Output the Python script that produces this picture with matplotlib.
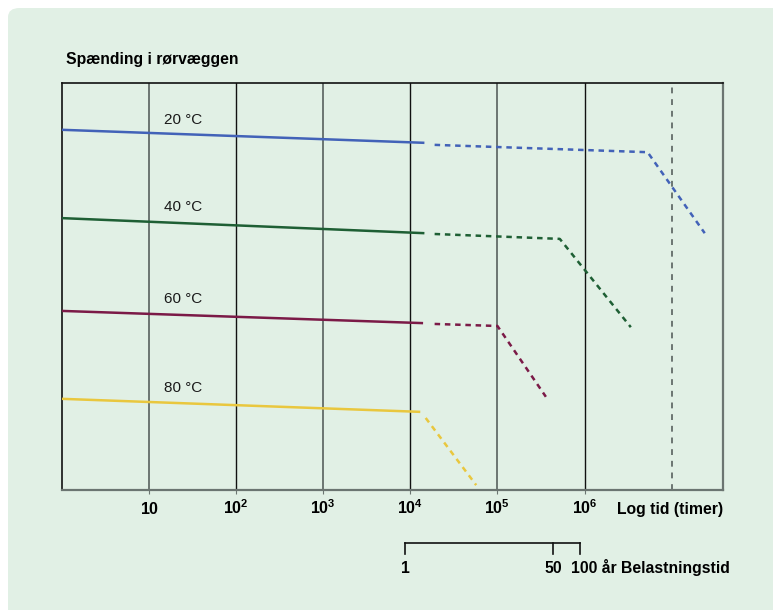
import matplotlib
matplotlib.use("Agg")
import matplotlib.pyplot as plt
from matplotlib.patches import FancyBboxPatch
import matplotlib.transforms as mtransforms

plt.rcParams["font.family"] = ["Liberation Sans", "DejaVu Sans"]
plt.rcParams["mathtext.fontset"] = "custom"
plt.rcParams["mathtext.rm"] = "Liberation Sans"
plt.rcParams["mathtext.bf"] = "Liberation Sans:bold"

# --- data (stress in arbitrary units, time in hours) ---
labels = ["20 °C", "40 °C", "60 °C", "80 °C"]
colors = ["#4262b8", "#1e5f34", "#7b1a47", "#e9c73e"]
solid_t = [[1, 1.45e4], [1, 1.45e4], [1, 1.4e4], [1, 1.3e4]]
solid_s = [[8.85, 8.53], [6.68, 6.31], [4.40, 4.10], [2.24, 1.92]]
dash_t = [[1.9e4, 5.3e6, 2.4e7], [1.9e4, 5.2e5, 3.4e6],
          [1.9e4, 1.0e5, 3.6e5], [1.5e4, 5.7e4]]
dash_s = [[8.48, 8.30, 6.31], [6.29, 6.17, 4.00],
          [4.08, 4.03, 2.29], [1.77, 0.12]]
label_s = [9.1, 6.95, 4.7, 2.5]

tick_vals = [10, 1e2, 1e3, 1e4, 1e5, 1e6]
tick_labels = [r"$\mathbf{10}$", r"$\mathbf{10^{2}}$", r"$\mathbf{10^{3}}$",
               r"$\mathbf{10^{4}}$", r"$\mathbf{10^{5}}$", r"$\mathbf{10^{6}}$"]
years = [1, 50, 100]
hours_per_year = 8760

bg = "#e1f0e5"
grey = "#6b7571"

fig = plt.figure(figsize=(7.73, 6.10), dpi=100)
fig.patch.set_facecolor("white")
panel = FancyBboxPatch((8 / 773, -0.1), 1.1, 1.1 - 8 / 610,
                       boxstyle="round,pad=0,rounding_size=0.015",
                       transform=fig.transFigure, facecolor=bg,
                       edgecolor="none", zorder=-10)
fig.patches.append(panel)

ax = fig.add_axes([62 / 773, 120 / 610, (723 - 62) / 773, (490 - 83) / 610])
ax.set_facecolor(bg)
ax.set_xscale("log")
ax.set_xlim(1, 10 ** 7.59)
ax.set_ylim(0, 10)
ax.set_yticks([])
ax.minorticks_off()

# grid lines
for i, t in enumerate(tick_vals):
    if i % 2 == 0:
        ax.axvline(t, color=grey, lw=1.4, zorder=1)
    else:
        ax.axvline(t, color="#111111", lw=1.0, zorder=1)
ax.axvline(1e7, color=grey, lw=1.4, ls=(0, (3, 3)), zorder=1)

for side in ["top", "left"]:
    ax.spines[side].set_color("#111111")
    ax.spines[side].set_linewidth(1.2)
for side in ["bottom", "right"]:
    ax.spines[side].set_color(grey)
    ax.spines[side].set_linewidth(1.6)

ax.set_xticks(tick_vals)
ax.set_xticklabels(tick_labels, fontsize=11.5)
ax.tick_params(axis="x", length=3, color=grey, pad=14)
for lab in ax.get_xticklabels():
    lab.set_verticalalignment("baseline")

for i in range(len(labels)):
    ax.plot(solid_t[i], solid_s[i], color=colors[i], lw=1.8,
            solid_capstyle="butt", zorder=3)
    ax.plot(dash_t[i], dash_s[i], color=colors[i], lw=1.8,
            ls=(0, (2.2, 1.9)), zorder=3)
    ax.text(15, label_s[i], labels[i], fontsize=11, color="#1a1a1a",
            ha="left", va="center")

ax.text(0.006, 1.04, "Spænding i rørvæggen", transform=ax.transAxes,
        fontsize=11.3, fontweight="bold", ha="left", va="bottom")
ax.text(1.0, -0.058, "Log tid (timer)", transform=ax.transAxes,
        fontsize=11.3, fontweight="bold", ha="right", va="baseline")

# load time bracket in years
trans = mtransforms.blended_transform_factory(ax.transData, ax.transAxes)
yr_hours = [y * hours_per_year for y in years]
ax.plot([yr_hours[0], yr_hours[-1]], [-0.13, -0.13], color="#111111",
        lw=1.2, transform=trans, clip_on=False)
for h in yr_hours:
    ax.plot([h, h], [-0.13, -0.157], color="#111111", lw=1.2,
            transform=trans, clip_on=False)
ax.text(yr_hours[0], -0.205, str(years[0]), transform=trans, fontsize=11.3,
        fontweight="bold", ha="center", va="baseline")
ax.text(yr_hours[1], -0.205, str(years[1]), transform=trans, fontsize=11.3,
        fontweight="bold", ha="center", va="baseline")
ax.text(yr_hours[2] * 0.8, -0.205, str(years[2]) + " år Belastningstid",
        transform=trans, fontsize=11.3, fontweight="bold", ha="left",
        va="baseline")

fig.savefig("out.png", dpi=100, facecolor=fig.get_facecolor())
